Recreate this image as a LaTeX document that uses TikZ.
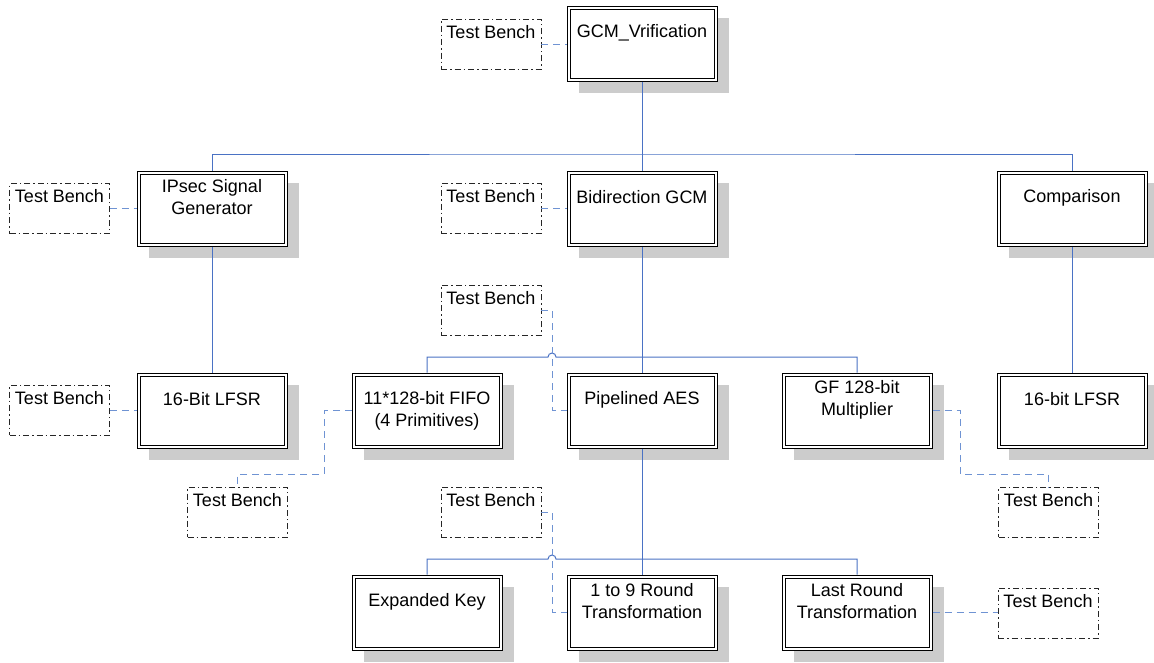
\documentclass[tikz,border=0pt]{standalone}
\usepackage{fontspec}
\setmainfont{Liberation Sans}
\usetikzlibrary{shadows}
\definecolor{linkblue}{HTML}{4A72C4}
\definecolor{probeblue}{HTML}{6F93D3}
\definecolor{shadowgray}{HTML}{CCCCCC}

\begin{document}
\begin{tikzpicture}[x=1pt,y=-1pt,
  every node/.style={font=\fontsize{18}{22}\selectfont},
  unit/.style={draw=black, line width=1pt, fill=white,
    minimum width=150pt, minimum height=75pt, inner sep=0pt,
    drop shadow={shadow xshift=12pt, shadow yshift=-12pt, fill=shadowgray, opacity=1},
    path picture={
      \draw[black, line width=0.8pt]
        ([shift={(3pt,-3pt)}]path picture bounding box.north west) rectangle
        ([shift={(-3pt,3pt)}]path picture bounding box.south east);}},
  unitlabel/.style={align=center, inner sep=0pt},
  bench/.style={draw=black!85, line width=0.8pt, fill=white,
    dash pattern=on 6pt off 3pt on 1.5pt off 3pt,
    minimum width=100pt, minimum height=50pt, inner sep=0pt},
  benchlabel/.style={inner sep=0pt},
  tree/.style={draw=linkblue, line width=1pt},
  probe/.style={draw=probeblue, line width=1pt, dash pattern=on 7pt off 5pt}]

\useasboundingbox[fill=white] (0,0) rectangle (1154,662);

% design units
\node[unit] (gcm)   at (642,43.5)  {};
\node[unit] (ipsec) at (212,208.5) {};
\node[unit] (bgcm)  at (642,208.5) {};
\node[unit] (comp)  at (1072,208.5) {};
\node[unit] (lfsrA) at (212,410.5) {};
\node[unit] (fifo)  at (427,410.5) {};
\node[unit] (aes)   at (642,410.5) {};
\node[unit] (gf)    at (857,410.5) {};
\node[unit] (lfsrB) at (1072,410.5) {};
\node[unit] (key)   at (427,612.5) {};
\node[unit] (r19)   at (642,612.5) {};
\node[unit] (last)  at (857,612.5) {};

\node[unitlabel] (gcm-t)   at ([yshift=11pt]gcm.center)   {GCM\_Vrification};
\node[unitlabel] (ipsec-t) at ([yshift=11pt]ipsec.center) {IPsec Signal\\Generator};
\node[unitlabel] (bgcm-t)  at ([yshift=11pt]bgcm.center)  {Bidirection GCM};
\node[unitlabel] (comp-t)  at ([yshift=11pt]comp.center)  {Comparison};
\node[unitlabel] (lfsrA-t) at ([yshift=11pt]lfsrA.center) {16-Bit LFSR};
\node[unitlabel] (fifo-t)  at (fifo.center)               {11*128-bit FIFO\\(4 Primitives)};
\node[unitlabel] (aes-t)   at ([yshift=11pt]aes.center)   {Pipelined AES};
\node[unitlabel] (gf-t)    at ([yshift=11pt]gf.center)    {GF 128-bit\\Multiplier};
\node[unitlabel] (lfsrB-t) at ([yshift=11pt]lfsrB.center) {16-bit LFSR};
\node[unitlabel] (key-t)   at ([yshift=11pt]key.center)   {Expanded Key};
\node[unitlabel] (r19-t)   at ([yshift=11pt]r19.center)   {1 to 9 Round\\Transformation};
\node[unitlabel] (last-t)  at ([yshift=11pt]last.center)  {Last Round\\Transformation};

% test benches
\node[bench] (tb0) at (491,44)     {};
\node[bench] (tb1) at (59.5,208.5) {};
\node[bench] (tb2) at (491,208.5)  {};
\node[bench] (tb3) at (491,310)    {};
\node[bench] (tb4) at (59.5,410)   {};
\node[bench] (tb5) at (237.5,512)  {};
\node[bench] (tb6) at (1048.5,512) {};
\node[bench] (tb7) at (491,512)    {};
\node[bench] (tb8) at (1048,613)   {};
\foreach \b in {tb0,tb1,tb2,tb3,tb4,tb5,tb6,tb7,tb8}
  \node[benchlabel] (\b-t) at ([yshift=12pt]\b.center) {Test Bench};

% hierarchy buses
\coordinate (bus1) at (642,154);
\draw[tree] (gcm.south) -- (bgcm.north);
\draw[tree] (ipsec.north) |- (bus1) -| (comp.north);
\draw[tree] (ipsec.south) -- (lfsrA.north);
\draw[tree] (comp.south) -- (lfsrB.north);

\draw[tree] (bgcm.south) -- (aes.north);
\draw[tree] (fifo.north) |- (548,357) arc[start angle=180, end angle=0, radius=4pt]
  -- (857,357) -- (gf.north);

\draw[tree] (aes.south) -- (r19.north);
\draw[tree] (key.north) |- (548,559) arc[start angle=180, end angle=0, radius=4pt]
  -- (857,559) -- (last.north);

% test bench hookups
\coordinate (bendA) at (324,474);
\coordinate (bendB) at (960,474);
\draw[probe] (tb0.east) -- (tb0.east -| gcm.west);
\draw[probe] (tb1.east) -- (ipsec.west);
\draw[probe] (tb2.east) -- (bgcm.west);
\draw[probe] (tb4.east) -- (tb4.east -| lfsrA.west);
\draw[probe] (tb3.east) -- ++(11,0) |- (aes.west);
\draw[probe] (tb7.east) -- ++(11,0) |- (r19.west);
\draw[probe] (fifo.west) -| (bendA) -| (tb5.north);
\draw[probe] (gf.east) -| (bendB) -| (tb6.north);
\draw[probe] (last.east) -- (last.east -| tb8.west);

\end{tikzpicture}
\end{document}
